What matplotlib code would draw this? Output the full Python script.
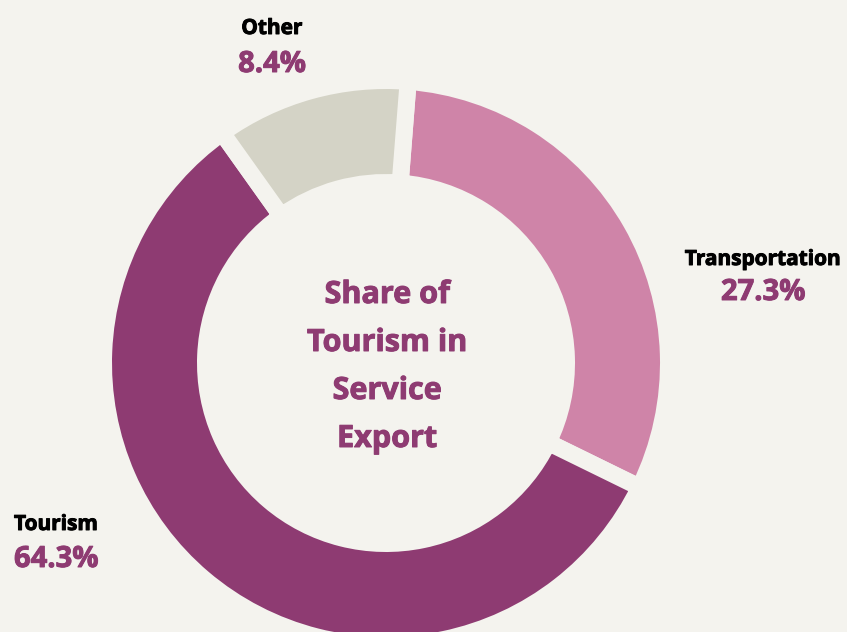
import matplotlib
matplotlib.use("Agg")
import matplotlib.pyplot as plt
import matplotlib.patheffects as pe

# ---- data ----
categories = ["Transportation", "Tourism", "Other"]
# arc sizes as drawn in the reference picture (share of the ring)
arc_shares = [31.0, 57.9, 11.1]
# percentages printed on the chart
pct_labels = ["27.3%", "64.3%", "8.4%"]
center_title = "Share of\nTourism in\nService\nExport"

# ---- style ----
W, H = 847, 632
bg = "#f4f3ee"
colors = ["#cf84a8", "#8e3b72", "#d4d3c6"]
purple = "#8e3b72"
font = "Open Sans"

fig = plt.figure(figsize=(W / 100, H / 100), dpi=100, facecolor=bg)
ax = fig.add_axes([0, 0, 1, 1])
ax.set_facecolor(bg)

cx, cy = 386, H - 363
gap_px = 17
outer, inner = 274, 189
ax.pie(arc_shares, colors=colors, startangle=85.5, counterclock=False,
       center=(cx, cy), radius=outer + gap_px / 2,
       wedgeprops=dict(width=(outer - inner) + gap_px, edgecolor=bg,
                       linewidth=gap_px * 72 / 100),
       frame=True)
ax.set_xlim(0, W)
ax.set_ylim(0, H)
ax.set_aspect("equal")
ax.axis("off")


def bold_fx(color):
    return [pe.withStroke(linewidth=0.7, foreground=color)]


# centre title
lines = center_title.split("\n")
for i, ln in enumerate(lines):
    ax.text(cx + 1, H - (303 + 48 * i), ln, ha="center", va="baseline",
            fontsize=22, fontweight="bold", color=purple, family=font,
            path_effects=bold_fx(purple))

# labels: (name, pct) positions (x, baseline of name, baseline of pct, ha)
label_pos = {
    "Other": (272, 34, 72, "center"),
    "Transportation": (763, 265, 300, "center"),
    "Tourism": (14, 530, 567, "left"),
}
for name, pct in zip(categories, pct_labels):
    x, yb1, yb2, ha = label_pos[name]
    ax.text(x, H - yb1, name, ha=ha, va="baseline", fontsize=15,
            fontweight="bold", color="black", family=font,
            path_effects=bold_fx("black"))
    ax.text(x, H - yb2, pct, ha=ha, va="baseline", fontsize=21,
            fontweight="bold", color=purple, family=font,
            path_effects=bold_fx(purple))

fig.savefig("out.png", dpi=100, facecolor=bg)
